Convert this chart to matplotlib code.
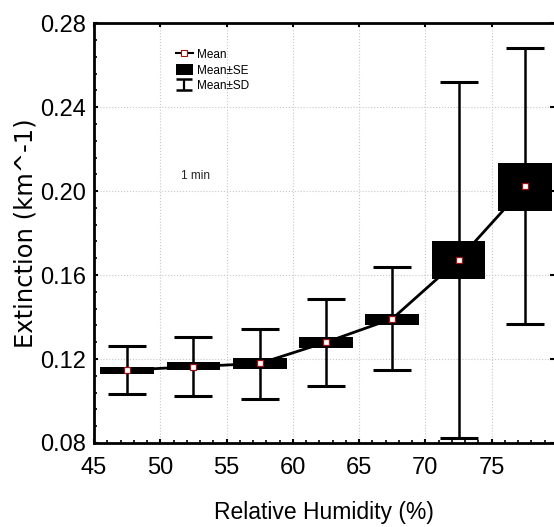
import numpy as np
import matplotlib.pyplot as plt
from matplotlib.ticker import MultipleLocator

plt.rcParams['font.family'] = ['Liberation Sans', 'DejaVu Sans']

# Relative humidity bins (centres) and extinction statistics
rh = [47.5, 52.5, 57.5, 62.5, 67.5, 72.5, 77.5]
mean = [0.1147, 0.1164, 0.1179, 0.1280, 0.1392, 0.1673, 0.2022]
se_lo = [0.1128, 0.1146, 0.1151, 0.1253, 0.1360, 0.1580, 0.1907]
se_hi = [0.1162, 0.1184, 0.1203, 0.1305, 0.1416, 0.1760, 0.2134]
sd_lo = [0.1033, 0.1025, 0.1011, 0.1072, 0.1147, 0.0822, 0.1366]
sd_hi = [0.1263, 0.1305, 0.1342, 0.1486, 0.1637, 0.2520, 0.2680]

rh = np.array(rh)
mean = np.array(mean)
se_lo, se_hi = np.array(se_lo), np.array(se_hi)
sd_lo, sd_hi = np.array(sd_lo), np.array(sd_hi)

fig = plt.figure(figsize=(5.54, 5.27), dpi=100)
ax = fig.add_axes([0.1697, 0.1594, 0.8303, 0.7966])

# SD whiskers
ax.errorbar(rh, mean, yerr=[mean - sd_lo, sd_hi - mean], fmt='none',
            ecolor='black', elinewidth=1.8, capsize=14, capthick=2.2, zorder=2)
# connecting line
ax.plot(rh, mean, color='black', lw=2, zorder=3)
# SE boxes
bars = ax.bar(rh, se_hi - se_lo, bottom=se_lo, width=4.05, color='black',
              zorder=4, label='Mean\u00b1SE')
# mean markers
ax.plot(rh, mean, ls='none', marker='s', ms=4.5, mfc='white',
        mec='#a01010', mew=0.9, zorder=5)

# legend-only handles
mean_handle, = ax.plot([], [], color='black', lw=1.5, marker='s', ms=4.5,
                       mfc='white', mec='#a01010', mew=0.8, label='Mean')
sd_handle = ax.errorbar([np.nan], [np.nan], yerr=[[np.nan], [np.nan]], fmt='none',
                        ecolor='black', elinewidth=1.6, capsize=6, capthick=1.8,
                        label='Mean\u00b1SD')

ax.set_xlim(45, 79.7)
ax.set_ylim(0.08, 0.28)
ax.xaxis.set_major_locator(MultipleLocator(5))
ax.xaxis.set_minor_locator(MultipleLocator(1))
ax.yaxis.set_major_locator(MultipleLocator(0.04))
ax.yaxis.set_minor_locator(MultipleLocator(0.008))
ax.yaxis.set_major_formatter(plt.FormatStrFormatter('%.2f'))

ax.tick_params(axis='both', which='major', direction='in', length=3, width=1.5,
               labelsize=17, top=True, right=True)
ax.tick_params(axis='x', which='major', pad=10)
ax.tick_params(axis='y', which='major', pad=5.5)
ax.tick_params(axis='both', which='minor', direction='in', length=2, width=1.2)
for s in ['left', 'bottom', 'top']:
    ax.spines[s].set_linewidth(2)
ax.spines['right'].set_visible(False)

ax.grid(True, which='major', color='#c8c8c8', ls=':', lw=0.8, zorder=0)
ax.set_axisbelow(True)

ax.set_xlabel('Relative Humidity (%)', fontsize=16.5, labelpad=16)
ax.set_ylabel('Extinction (km^-1)', fontsize=17.5, labelpad=2,
              family=['DejaVu Sans'])

ax.legend(handles=[mean_handle, bars, sd_handle], loc='upper left',
          bbox_to_anchor=(0.178, 0.94), frameon=False, fontsize=8.5,
          handlelength=1.45, handleheight=1.1, labelspacing=0.25,
          handletextpad=0.3, borderpad=0.0, borderaxespad=0.0)

ax.text(0.19, 0.636, '1 min', transform=ax.transAxes, fontsize=8.5,
        va='center', ha='left', color='#222222')

fig.savefig('out.png', dpi=100)
